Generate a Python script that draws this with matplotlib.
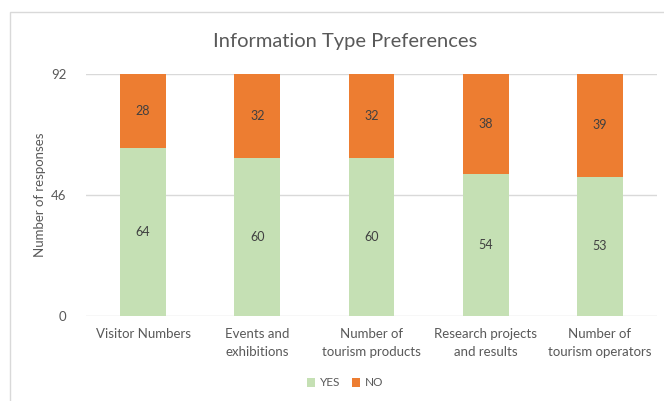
import matplotlib
matplotlib.use("Agg")
import matplotlib.pyplot as plt
from matplotlib.patches import Rectangle
import numpy as np

categories = ["Visitor Numbers", "Events and\nexhibitions", "Number of\ntourism products",
              "Research projects\nand results", "Number of\ntourism operators"]
yes_vals = [64, 60, 60, 54, 53]
no_vals = [28, 32, 32, 38, 39]
yticks = [0, 46, 92]

plt.rcParams['font.family'] = ['Lato', 'DejaVu Sans']
text_col = "#595959"
green = "#C5E0B4"
orange = "#ED7D31"

W, H = 664, 401
fig = plt.figure(figsize=(W/100, H/100), dpi=100)
fig.patch.set_facecolor("white")

# chart border
fig.patches.append(Rectangle((10/W, -0.1), 1.2, (H-12)/H + 0.1, transform=fig.transFigure,
                             fill=False, edgecolor="#D9D9D9", linewidth=1.0))

ax = fig.add_axes([86/W, 1-316/H, (657-86)/W, (316-74)/H])
x = np.arange(len(categories))
b1 = ax.bar(x, yes_vals, width=0.4, color=green, label="YES", zorder=3)
b2 = ax.bar(x, no_vals, width=0.4, bottom=yes_vals, color=orange, label="NO", zorder=3)

for i in range(len(categories)):
    ax.text(x[i], yes_vals[i]/2, str(yes_vals[i]), ha="center", va="center",
            fontsize=9, color="#404040", zorder=4)
    ax.text(x[i], yes_vals[i] + no_vals[i]/2, str(no_vals[i]), ha="center", va="center",
            fontsize=9, color="#404040", zorder=4)

ax.set_xlim(-0.5, len(categories)-0.5)
ax.set_ylim(0, 92)
ax.set_yticks(yticks)
ax.set_yticklabels([str(v) for v in yticks])
ax.set_xticks(x)
ax.set_xticklabels(categories)
ax.tick_params(axis="both", length=0, colors=text_col, labelsize=9.5)
ax.tick_params(axis="y", pad=14)
ax.tick_params(axis="x", pad=9)
for lab in ax.get_xticklabels():
    lab.set_linespacing(1.5)
ax.grid(axis="y", color="#D9D9D9", linewidth=1, zorder=0)
for s in ax.spines.values():
    s.set_visible(False)
ax.set_ylabel("Number of responses", color=text_col, fontsize=9.5, labelpad=4)

fig.text(345/W, 1-42/H, "Information Type Preferences", ha="center", va="center",
         fontsize=14.5, color=text_col)

leg = fig.legend(handles=[b1, b2], labels=["YES", "NO"], loc="center",
                 bbox_to_anchor=(345/W, 1-383/H), ncol=2, frameon=False,
                 fontsize=8.5, handlelength=0.7, handleheight=0.7, columnspacing=1.0,
                 handletextpad=0.4)
for t in leg.get_texts():
    t.set_color(text_col)

fig.savefig("out.png", dpi=100)
